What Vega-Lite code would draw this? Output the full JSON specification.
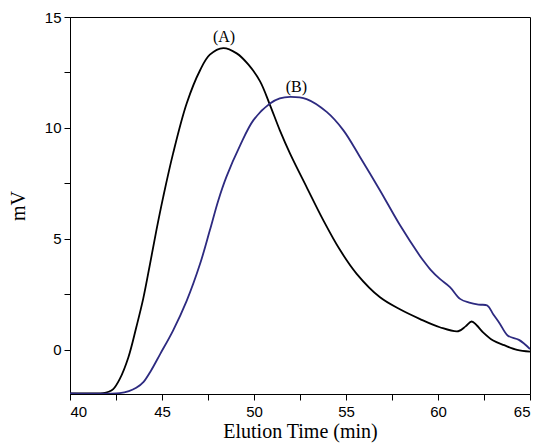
{
  "$schema": "https://vega.github.io/schema/vega-lite/v6.json",
  "autosize": "none",
  "width": 460,
  "height": 377,
  "padding": {"left": 70, "top": 17, "right": 11, "bottom": 53},
  "background": "white",
  "config": {
    "view": {"stroke": "black", "strokeWidth": 1},
    "axis": {"grid": false, "domainColor": "black", "tickColor": "black", "labelColor": "black", "titleColor": "black", "domainWidth": 1, "tickWidth": 1}
  },
  "datasets": {
    "curves": [
      {"t": 40, "v": -1.97, "s": "A"}, {"t": 41, "v": -1.97, "s": "A"}, {"t": 41.8, "v": -1.96, "s": "A"}, {"t": 42.1, "v": -1.9, "s": "A"},
      {"t": 42.35, "v": -1.78, "s": "A"}, {"t": 42.7, "v": -1.33, "s": "A"}, {"t": 43.17, "v": -0.35, "s": "A"}, {"t": 43.6, "v": 1.0, "s": "A"},
      {"t": 43.98, "v": 2.3, "s": "A"}, {"t": 44.35, "v": 3.87, "s": "A"}, {"t": 44.7, "v": 5.4, "s": "A"}, {"t": 45.07, "v": 6.9, "s": "A"},
      {"t": 45.6, "v": 8.84, "s": "A"}, {"t": 46.34, "v": 11.1, "s": "A"}, {"t": 47.07, "v": 12.6, "s": "A"}, {"t": 47.6, "v": 13.3, "s": "A"},
      {"t": 48.33, "v": 13.6, "s": "A"}, {"t": 49.06, "v": 13.36, "s": "A"}, {"t": 49.7, "v": 12.85, "s": "A"}, {"t": 50.33, "v": 12.1, "s": "A"},
      {"t": 50.87, "v": 11.03, "s": "A"}, {"t": 51.4, "v": 9.9, "s": "A"}, {"t": 51.96, "v": 8.84, "s": "A"}, {"t": 52.86, "v": 7.33, "s": "A"},
      {"t": 53.77, "v": 5.83, "s": "A"}, {"t": 54.67, "v": 4.5, "s": "A"}, {"t": 55.58, "v": 3.42, "s": "A"}, {"t": 56.85, "v": 2.36, "s": "A"},
      {"t": 57.93, "v": 1.82, "s": "A"}, {"t": 59.0, "v": 1.39, "s": "A"}, {"t": 60.1, "v": 1.01, "s": "A"}, {"t": 61.1, "v": 0.83, "s": "A"},
      {"t": 61.5, "v": 1.05, "s": "A"}, {"t": 61.83, "v": 1.27, "s": "A"}, {"t": 62.1, "v": 1.1, "s": "A"}, {"t": 62.45, "v": 0.78, "s": "A"},
      {"t": 63.0, "v": 0.41, "s": "A"}, {"t": 63.6, "v": 0.2, "s": "A"}, {"t": 64.3, "v": -0.01, "s": "A"}, {"t": 65, "v": -0.09, "s": "A"},
      {"t": 40, "v": -1.97, "s": "B"}, {"t": 42.7, "v": -1.96, "s": "B"}, {"t": 43.2, "v": -1.87, "s": "B"}, {"t": 43.6, "v": -1.72, "s": "B"},
      {"t": 44.0, "v": -1.45, "s": "B"}, {"t": 44.4, "v": -0.95, "s": "B"}, {"t": 44.9, "v": -0.2, "s": "B"}, {"t": 45.6, "v": 0.86, "s": "B"},
      {"t": 46.34, "v": 2.2, "s": "B"}, {"t": 47.07, "v": 3.87, "s": "B"}, {"t": 47.6, "v": 5.38, "s": "B"}, {"t": 48.06, "v": 6.73, "s": "B"},
      {"t": 48.5, "v": 7.79, "s": "B"}, {"t": 49.24, "v": 9.2, "s": "B"}, {"t": 49.97, "v": 10.35, "s": "B"}, {"t": 50.87, "v": 11.1, "s": "B"},
      {"t": 51.4, "v": 11.33, "s": "B"}, {"t": 51.96, "v": 11.4, "s": "B"}, {"t": 52.86, "v": 11.3, "s": "B"}, {"t": 53.95, "v": 10.72, "s": "B"},
      {"t": 54.85, "v": 9.9, "s": "B"}, {"t": 55.76, "v": 8.69, "s": "B"}, {"t": 56.85, "v": 7.18, "s": "B"}, {"t": 57.93, "v": 5.62, "s": "B"},
      {"t": 59.0, "v": 4.25, "s": "B"}, {"t": 59.2, "v": 4.02, "s": "B"}, {"t": 59.6, "v": 3.6, "s": "B"}, {"t": 60.1, "v": 3.19, "s": "B"},
      {"t": 60.65, "v": 2.82, "s": "B"}, {"t": 61.2, "v": 2.29, "s": "B"}, {"t": 61.7, "v": 2.12, "s": "B"}, {"t": 62.2, "v": 2.03, "s": "B"},
      {"t": 62.68, "v": 1.99, "s": "B"}, {"t": 63.0, "v": 1.6, "s": "B"}, {"t": 63.37, "v": 1.16, "s": "B"}, {"t": 63.8, "v": 0.63, "s": "B"},
      {"t": 64.4, "v": 0.44, "s": "B"}, {"t": 65, "v": 0.03, "s": "B"}
    ],
    "labels": [
      {"t": 48.37, "v": 14.1, "text": "(A)"},
      {"t": 52.3, "v": 11.84, "text": "(B)"}
    ]
  },
  "layer": [
    {
      "data": {"name": "curves"},
      "mark": {"type": "line", "strokeWidth": 1.8, "interpolate": "catmull-rom", "clip": true},
      "encoding": {
        "x": {
          "field": "t", "type": "quantitative",
          "scale": {"domain": [40, 65], "nice": false, "zero": false},
          "axis": {
            "title": "Elution Time (min)",
            "values": [40, 42.5, 45, 47.5, 50, 52.5, 55, 57.5, 60, 62.5, 65],
            "labelExpr": "datum.value % 5 === 0 ? datum.label : ''",
            "labelFont": "Liberation Sans", "labelFontSize": 15, "labelPadding": 4,
            "tickSize": 6,
            "titleFont": "Liberation Serif", "titleFontSize": 20, "titleFontWeight": "normal", "titlePadding": 2
          }
        },
        "y": {
          "field": "v", "type": "quantitative",
          "scale": {"domain": [-2, 15], "nice": false, "zero": false},
          "axis": {
            "title": "mV",
            "values": [0, 2.5, 5, 7.5, 10, 12.5, 15],
            "labelExpr": "datum.value % 5 === 0 ? datum.label : ''",
            "labelFont": "Liberation Sans", "labelFontSize": 15, "labelPadding": 3,
            "tickSize": 6,
            "titleFont": "Liberation Serif", "titleFontSize": 20, "titleFontWeight": "normal", "titlePadding": 16
          }
        },
        "color": {
          "field": "s", "type": "nominal",
          "scale": {"domain": ["A", "B"], "range": ["#000000", "#2d2a80"]},
          "legend": null
        },
        "detail": {"field": "s"}
      }
    },
    {
      "data": {"name": "labels"},
      "mark": {"type": "text", "font": "Liberation Serif", "fontSize": 16, "color": "black", "baseline": "middle", "align": "center"},
      "encoding": {
        "x": {"field": "t", "type": "quantitative"},
        "y": {"field": "v", "type": "quantitative"},
        "text": {"field": "text"}
      }
    }
  ]
}
